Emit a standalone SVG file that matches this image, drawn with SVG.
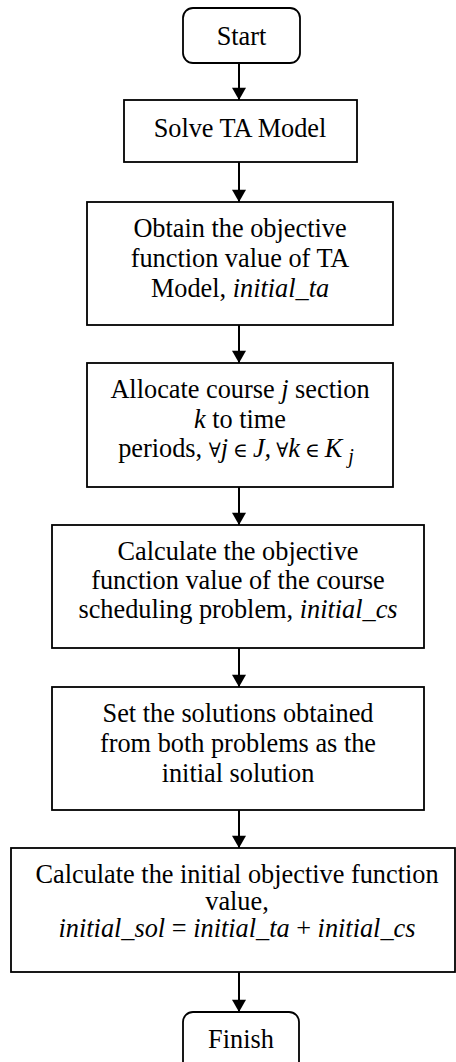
<svg xmlns="http://www.w3.org/2000/svg" width="456" height="1062" viewBox="0 0 456 1062">
<defs>
<style>
.box{fill:#fff;stroke:#000;stroke-width:1.8}
.t{font-family:"Liberation Serif","DejaVu Serif",serif;font-size:26.3px;fill:#000;text-anchor:middle}
.i{font-style:italic}
.s{font-family:"DejaVu Serif",serif;font-size:20px}
.c{stroke:#000;stroke-width:2;fill:none}
</style>
<marker id="ah" markerUnits="userSpaceOnUse" markerWidth="16" markerHeight="14" refX="13" refY="7.5" orient="auto" viewBox="0 0 16 15">
<path d="M0,0 L13,7.5 L0,15 Z" fill="#000"/>
</marker>
</defs>
<rect width="456" height="1062" fill="#fff"/>
<g id="connectors">
<line class="c" x1="239" y1="63" x2="239" y2="100" marker-end="url(#ah)"/>
<line class="c" x1="239" y1="162" x2="239" y2="202" marker-end="url(#ah)"/>
<line class="c" x1="239" y1="325" x2="239" y2="363" marker-end="url(#ah)"/>
<line class="c" x1="239" y1="487" x2="239" y2="525" marker-end="url(#ah)"/>
<line class="c" x1="239" y1="648" x2="239" y2="687" marker-end="url(#ah)"/>
<line class="c" x1="239" y1="810" x2="239" y2="848" marker-end="url(#ah)"/>
<line class="c" x1="239" y1="972" x2="239" y2="1012" marker-end="url(#ah)"/>
</g>
<g id="start">
<rect class="box" x="183" y="8" width="117" height="55" rx="10"/>
<text class="t" x="241.5" y="45">Start</text>
</g>
<g id="solve">
<rect class="box" x="124" y="100" width="233" height="62"/>
<text class="t" x="240" y="137">Solve TA Model</text>
</g>
<g id="obtain">
<rect class="box" x="87" y="202" width="306" height="123"/>
<text class="t" x="240" y="237">Obtain the objective</text>
<text class="t" x="240" y="267">function value of TA</text>
<text class="t" x="240" y="297">Model, <tspan class="i">initial_ta</tspan></text>
</g>
<g id="allocate">
<rect class="box" x="87" y="363" width="306" height="124"/>
<text class="t" x="240" y="398">Allocate course <tspan class="i">j</tspan> section</text>
<text class="t" x="240" y="428"><tspan class="i">k</tspan> to time</text>
<text class="t" x="236" y="457">periods, <tspan class="s">∀</tspan><tspan class="i">j</tspan><tspan class="s" dx="5">∈</tspan><tspan class="i" dx="5">J,</tspan><tspan class="s" dx="5">∀</tspan><tspan class="i">k</tspan><tspan class="s" dx="5">∈</tspan><tspan class="i" dx="5">K</tspan><tspan class="i" dx="6" dy="6" font-size="20">j</tspan></text>
</g>
<g id="calc-cs">
<rect class="box" x="52" y="525" width="372" height="123"/>
<text class="t" x="238" y="560">Calculate the objective</text>
<text class="t" x="238" y="589">function value of the course</text>
<text class="t" x="238" y="618">scheduling problem, <tspan class="i">initial_cs</tspan></text>
</g>
<g id="set">
<rect class="box" x="52" y="687" width="372" height="123"/>
<text class="t" x="238" y="722">Set the solutions obtained</text>
<text class="t" x="238" y="752">from both problems as the</text>
<text class="t" x="238" y="782">initial solution</text>
</g>
<g id="calc-initial">
<rect class="box" x="11" y="848" width="444" height="124"/>
<text class="t" x="237" y="883">Calculate the initial objective function</text>
<text class="t" x="237" y="910">value,</text>
<text class="t" x="237" y="937"><tspan class="i">initial_sol</tspan> = <tspan class="i">initial_ta</tspan> + <tspan class="i">initial_cs</tspan></text>
</g>
<g id="finish">
<rect class="box" x="183" y="1012" width="116" height="62" rx="10"/>
<text class="t" x="241" y="1048">Finish</text>
</g>
</svg>
